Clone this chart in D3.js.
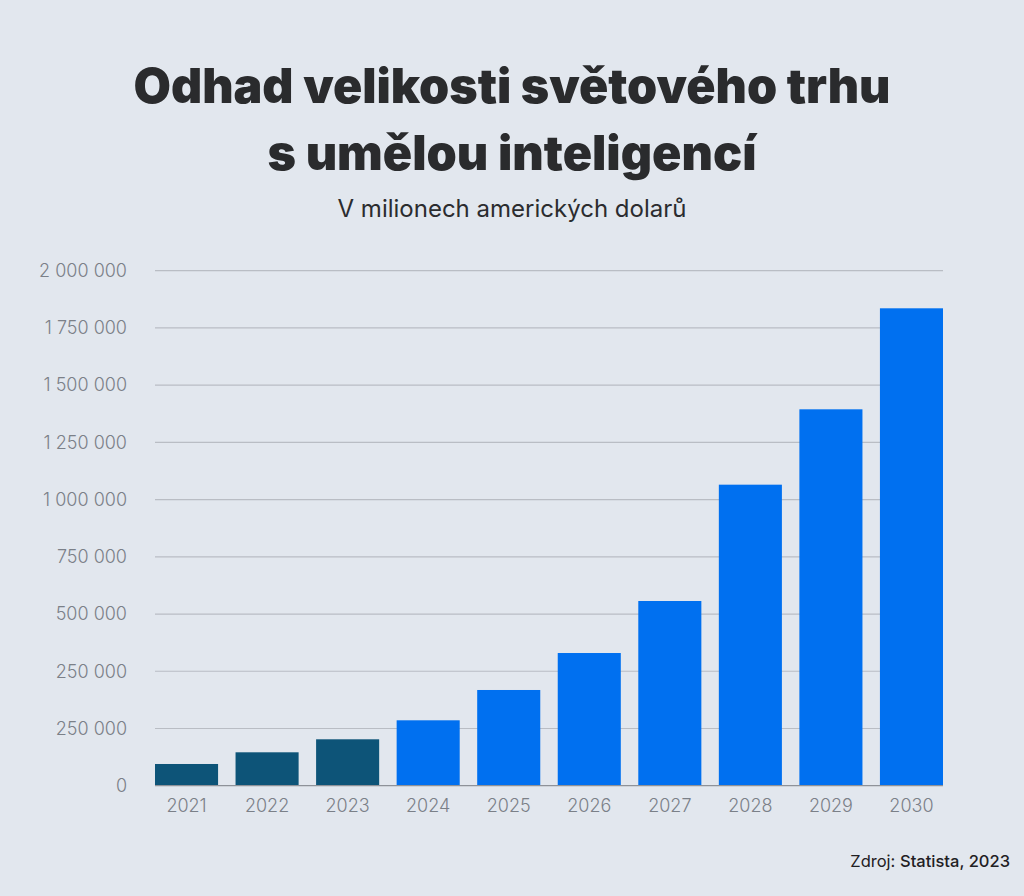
<!DOCTYPE html>
<html>
    <head>
        <meta charset="UTF-8">
        <title>Odhad velikosti světového trhu s umělou inteligencí</title>
        <script src="https://cdn.jsdelivr.net/npm/d3@7/dist/d3.min.js" type="text/javascript"></script>

        <style>
            html, body {
                margin: 0;
                padding: 0;
                background: #e2e7ee;
            }
            svg {
                display: block;
                font-family: Inter, 'Noto Sans', sans-serif;
            }
            .grid line {
                stroke: #b9bdc4;
                stroke-width: 1.2;
            }
            .axis text {
                fill: #7b8088;
                font-size: 18px;
                font-weight: 300;
            }
        </style>
    </head>
    <body>
        <svg id="svg"></svg>

        <script>

            var WIDTH = 1024;
            var HEIGHT = 896;

            var LEFT = 155;
            var RIGHT = 943;
            var TOP = 270.7;
            var BOTTOM = 785.7;

            // Data (millions of USD)
            var years = ['2021', '2022', '2023', '2024', '2025', '2026', '2027', '2028', '2029', '2030'];
            var values = [84300, 129700, 180200, 254000, 371700, 515300, 717300, 1169000, 1461700, 1854000];
            var actualYears = ['2021', '2022', '2023'];

            // Tick labels as printed (bottom to top)
            var tickLabels = ['0', '250 000', '250 000', '500 000', '750 000', '1 000 000',
                              '1 250 000', '1 500 000', '1 750 000', '2 000 000'];
            var yMax = 2000000;

            var titleLines = ['Odhad velikosti světového trhu', 's umělou inteligencí'];
            var subtitle = 'V milionech amerických dolarů';

            var svg = d3.select('#svg')
                        .attr('width', WIDTH)
                        .attr('height', HEIGHT);

            svg.append('rect')
               .attr('width', WIDTH)
               .attr('height', HEIGHT)
               .attr('fill', '#e2e7ee');

            // Scales
            var xScale = d3.scaleBand()
                           .domain(years)
                           .range([LEFT, RIGHT])
                           .paddingInner(0.217)
                           .paddingOuter(0);
            var yScale = d3.scaleLinear()
                           .domain([0, yMax])
                           .range([BOTTOM, TOP]);

            // gridlines are evenly spaced, one per printed label
            var tickValues = tickLabels.map(function(d, i){
                return i * yMax / (tickLabels.length - 1);
            });

            var yAxis = d3.axisLeft(yScale)
                          .tickValues(tickValues)
                          .tickSize(0)
                          .tickPadding(28)
                          .tickFormat(function(d, i){ return tickLabels[i]; });

            var gY = svg.append('g')
                        .attr('class', 'axis')
                        .attr('transform', 'translate(' + LEFT + ',0)')
                        .call(yAxis);
            gY.select('.domain').remove();

            svg.append('g')
               .attr('class', 'grid')
               .selectAll('line')
               .data(tickValues.slice(1))
               .enter()
               .append('line')
               .attr('x1', LEFT)
               .attr('x2', RIGHT)
               .attr('y1', function(d){ return yScale(d); })
               .attr('y2', function(d){ return yScale(d); });

            // Bars
            svg.selectAll('rect.bar')
               .data(years)
               .enter()
               .append('rect')
               .attr('class', 'bar')
               .attr('x', function(d){ return xScale(d); })
               .attr('width', xScale.bandwidth())
               .attr('y', function(d, i){ return yScale(values[i]); })
               .attr('height', function(d, i){ return BOTTOM - yScale(values[i]); })
               .attr('fill', function(d){
                   return actualYears.indexOf(d) >= 0 ? '#0d5478' : '#0070f0';
               });

            // Baseline
            svg.append('line')
               .attr('x1', LEFT)
               .attr('x2', RIGHT)
               .attr('y1', BOTTOM)
               .attr('y2', BOTTOM)
               .attr('stroke', '#8e9299')
               .attr('stroke-width', 1.3);

            var xAxis = d3.axisBottom(xScale)
                          .tickSize(0)
                          .tickPadding(14);
            var gX = svg.append('g')
                        .attr('class', 'axis')
                        .attr('transform', 'translate(0,' + BOTTOM + ')')
                        .call(xAxis);
            gX.select('.domain').remove();

            svg.selectAll('.axis text')
               .attr('font-family', "Inter, 'Noto Sans', sans-serif");

            // Title
            var titleWidths = [757, 489];
            titleLines.forEach(function(t, i){
                svg.append('text')
                   .attr('x', 512)
                   .attr('y', 102.5 + i * 67)
                   .attr('text-anchor', 'middle')
                   .attr('font-size', 48)
                   .attr('font-weight', 900)
                   .attr('fill', '#2a2b2d')
                   .attr('textLength', titleWidths[i])
                   .attr('lengthAdjust', 'spacingAndGlyphs')
                   .text(t);
            });

            svg.append('text')
               .attr('x', 512)
               .attr('y', 217)
               .attr('text-anchor', 'middle')
               .attr('font-size', 24)
               .attr('fill', '#2b2c2f')
               .text(subtitle);

            // Source
            var src = svg.append('text')
                         .attr('x', 1010)
                         .attr('y', 867)
                         .attr('text-anchor', 'end')
                         .attr('font-size', 16.5)
                         .attr('fill', '#1f2023');
            src.append('tspan').text('Zdroj: ');
            src.append('tspan').attr('font-weight', 500).text('Statista, 2023');

        </script>
    </body>
</html>
